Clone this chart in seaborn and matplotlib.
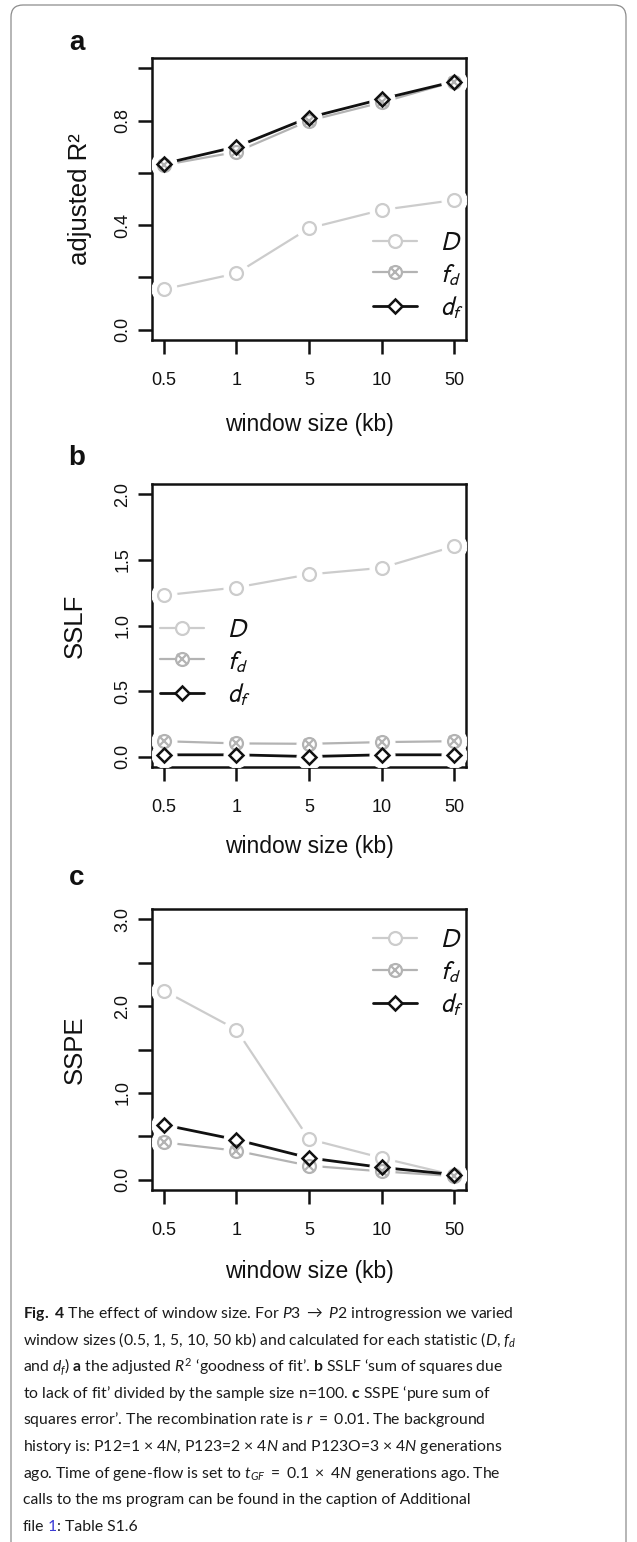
import numpy as np
import pandas as pd
import seaborn as sns
import matplotlib.pyplot as plt
from matplotlib.lines import Line2D
from matplotlib.patches import FancyBboxPatch
from matplotlib.font_manager import FontProperties, fontManager

# window sizes (kb) on the x axis
window_labels = ['0.5', '1', '5', '10', '50']

# a: adjusted R^2
r2_D = [0.154, 0.215, 0.388, 0.458, 0.496]
r2_fd = [0.63, 0.68, 0.80, 0.87, 0.95]
r2_df = [0.635, 0.70, 0.812, 0.883, 0.95]

# b: SSLF
sslf_D = [1.23, 1.29, 1.39, 1.44, 1.605]
sslf_fd = [0.117, 0.10, 0.097, 0.11, 0.117]
sslf_df = [0.013, 0.013, 0.0, 0.013, 0.013]

# c: SSPE
sspe_D = [2.18, 1.73, 0.467, 0.25, 0.05]
sspe_fd = [0.43, 0.333, 0.16, 0.095, 0.04]
sspe_df = [0.632, 0.46, 0.25, 0.14, 0.057]

sns.set_theme(style='ticks')
plt.rcParams['font.family'] = ['Liberation Sans', 'DejaVu Sans']

names = {f.name for f in fontManager.ttflist}
cap_font = 'Liberation Sans Narrow' if 'Liberation Sans Narrow' in names else 'Lato'
plt.rcParams['mathtext.fontset'] = 'custom'
plt.rcParams['mathtext.rm'] = cap_font
plt.rcParams['mathtext.it'] = cap_font + ':italic'
plt.rcParams['mathtext.bf'] = cap_font + ':bold'
plt.rcParams['mathtext.fallback'] = 'stixsans'

c_D = '#cccccc'
c_fd = '#b3b3b3'
c_df = '#111111'

W, H = 637, 1542
fig = plt.figure(figsize=(W / 100, H / 100), dpi=100)

# outer rounded frame of the figure page
fig.add_artist(FancyBboxPatch((0.11, -0.5), 6.15, 15.42 - 0.05 + 0.5,
                              boxstyle='round,pad=0,rounding_size=0.12',
                              transform=fig.dpi_scale_trans, fill=False,
                              ec='#8c8c8c', lw=0.9))

xpos = np.arange(1, len(window_labels) + 1)


def px_rect(left, top, right, bottom):
    return [left / W, 1 - bottom / H, (right - left) / W, (bottom - top) / H]


panels = [
    dict(letter='a', letter_y=43, rect=px_rect(152, 58, 466, 340),
         ylabel='adjusted R²', D=r2_D, fd=r2_fd, df=r2_df,
         ylim=(-0.04, 1.04), yticks=[0, 0.2, 0.4, 0.6, 0.8, 1.0],
         yticklabels=['0.0', '', '0.4', '', '0.8', ''],
         leg=(0.704, 0.387), ylab_x=-0.229, xlab_y=-0.30),
    dict(letter='b', letter_y=458, rect=px_rect(152, 484, 466, 767),
         ylabel='SSLF', D=sslf_D, fd=sslf_fd, df=sslf_df,
         ylim=(-0.08, 2.08), yticks=[0, 0.5, 1.0, 1.5, 2.0],
         yticklabels=['0.0', '0.5', '1.0', '1.5', '2.0'],
         leg=(0.025, 0.527), ylab_x=-0.245, xlab_y=-0.28),
    dict(letter='c', letter_y=878, rect=px_rect(152, 909, 466, 1190),
         ylabel='SSPE', D=sspe_D, fd=sspe_fd, df=sspe_df,
         ylim=(-0.12, 3.12), yticks=[0, 0.5, 1.0, 1.5, 2.0, 2.5, 3.0],
         yticklabels=['0.0', '', '1.0', '', '2.0', '', '3.0'],
         leg=(0.704, 0.932), ylab_x=-0.245, xlab_y=-0.29),
]

for p in panels:
    ax = fig.add_axes(p['rect'])
    series = [(p['D'], c_D, 1.6), (p['fd'], c_fd, 1.6), (p['df'], c_df, 2.0)]
    # lines first
    for vals, col, lw in series:
        sns.lineplot(x=xpos, y=vals, color=col, linewidth=lw, ax=ax, zorder=2)
    # white gaps around the points (R type="b")
    for vals, col, lw in series:
        sns.lineplot(x=xpos, y=vals, linestyle='none', marker='o', markersize=18,
                     markerfacecolor='white', markeredgecolor='white', ax=ax, zorder=3)
    # point symbols
    sns.lineplot(x=xpos, y=p['D'], linestyle='none', marker='o', markersize=9.3,
                 markerfacecolor='none', markeredgecolor=c_D, markeredgewidth=1.6,
                 ax=ax, zorder=4)
    sns.lineplot(x=xpos, y=p['fd'], linestyle='none', marker='o', markersize=9.3,
                 markerfacecolor='none', markeredgecolor=c_fd, markeredgewidth=1.6,
                 ax=ax, zorder=4)
    sns.lineplot(x=xpos, y=p['fd'], linestyle='none', marker='x', markersize=6.5,
                 markeredgecolor=c_fd, markeredgewidth=1.6, ax=ax, zorder=4)
    sns.lineplot(x=xpos, y=p['df'], linestyle='none', marker='D', markersize=7.3,
                 markerfacecolor='none', markeredgecolor=c_df, markeredgewidth=1.8,
                 ax=ax, zorder=5)

    ax.set_xlim(0.84, 5.16)
    ax.set_ylim(*p['ylim'])
    ax.set_xticks(xpos)
    ax.set_xticklabels(window_labels)
    ax.set_yticks(p['yticks'])
    ax.set_yticklabels(p['yticklabels'], rotation=90, va='center')
    ax.tick_params(axis='both', direction='out', length=10, width=1.8,
                   labelsize=13, colors='#111111')
    ax.tick_params(axis='x', pad=13)
    ax.tick_params(axis='y', pad=5)
    for s in ax.spines.values():
        s.set_visible(True)
        s.set_linewidth(1.8)
        s.set_color('#111111')

    ax.set_xlabel('window size (kb)', fontsize=16.5, va='center', color='#111111')
    ax.xaxis.set_label_coords(0.5, p['xlab_y'])
    ax.set_ylabel(p['ylabel'], fontsize=18.5, va='center', color='#111111')
    ax.yaxis.set_label_coords(p['ylab_x'], 0.5)

    h_D = Line2D([], [], color=c_D, lw=1.6, marker='o', ms=9.3, mfc='white',
                 mec=c_D, mew=1.6)
    h_fd = (Line2D([], [], color=c_fd, lw=1.6, marker='o', ms=9.3, mfc='white',
                   mec=c_fd, mew=1.6),
            Line2D([], [], ls='none', marker='x', ms=6.5, mec=c_fd, mew=1.6))
    h_df = Line2D([], [], color=c_df, lw=2.0, marker='D', ms=7.3, mfc='white',
                  mec=c_df, mew=1.8)
    leg = ax.legend([h_D, h_fd, h_df], ['$D$', '$f_d$', '$d_f$'],
                    loc='upper left', bbox_to_anchor=p['leg'], frameon=False,
                    borderpad=0, borderaxespad=0, handlelength=1.7,
                    handletextpad=0.9, labelspacing=0.28,
                    prop=FontProperties(family='Liberation Sans', size=18.5,
                                        math_fontfamily='stixsans'))
    for t in leg.get_texts():
        t.set_color('#111111')

    fig.text(77 / W, 1 - p['letter_y'] / H, p['letter'], fontsize=20,
             fontweight='bold', ha='center', va='center', color='#111111')

# caption
caption_lines = [
    r"$\mathbf{Fig.\ 4}$ The effect of window size. For $\mathit{P3}\ \rightarrow\ \mathit{P2}$ introgression we varied",
    r"window sizes (0.5, 1, 5, 10, 50 kb) and calculated for each statistic ($D$, $f_d$",
    r"and $d_f$) $\mathbf{a}$ the adjusted $R^2$ ‘goodness of fit’. $\mathbf{b}$ SSLF ‘sum of squares due",
    r"to lack of fit’ divided by the sample size n=100. $\mathbf{c}$ SSPE ‘pure sum of",
    r"squares error’. The recombination rate is $r\ =\ 0.01$. The background",
    r"history is: P12=1 $\times$ 4$N$, P123=2 $\times$ 4$N$ and P123O=3 $\times$ 4$N$ generations",
    r"ago. Time of gene-flow is set to $t_{GF}\ =\ 0.1\ \times\ 4N$ generations ago. The",
    "calls to the ms program can be found in the caption of Additional",
]
cap_size = 13
base0, step = 1318, 26.6
texts = []
for i, line in enumerate(caption_lines):
    t = fig.text(23 / W, 1 - (base0 + i * step) / H, line, fontsize=cap_size,
                 family=[cap_font, 'DejaVu Sans'], ha='left', va='baseline',
                 color='#1a1a1a')
    texts.append(t)
t_file = fig.text(23 / W, 1 - (base0 + 8 * step) / H, 'file', fontsize=cap_size,
                  family=[cap_font, 'DejaVu Sans'], ha='left', va='baseline',
                  color='#1a1a1a')
texts.append(t_file)

# fit caption width to the reference line length
fig.canvas.draw()
r = fig.canvas.get_renderer()
w0 = texts[0].get_window_extent(r).width
scale = 487 / w0
for t in texts:
    t.set_fontsize(cap_size * scale)
fig.canvas.draw()

a1 = plt.annotate('1', xy=(1, 0), xycoords=t_file, xytext=(2.5, 0),
                  textcoords='offset points', ha='left', va='bottom',
                  fontsize=cap_size * scale, color='#3b3bd6',
                  family=[cap_font, 'DejaVu Sans'], annotation_clip=False)
a2 = plt.annotate(': Table S1.6', xy=(1, 0), xycoords=a1, ha='left', va='bottom',
                  fontsize=cap_size * scale, color='#1a1a1a',
                  family=[cap_font, 'DejaVu Sans'], annotation_clip=False)

fig.savefig('out.png', dpi=100)
